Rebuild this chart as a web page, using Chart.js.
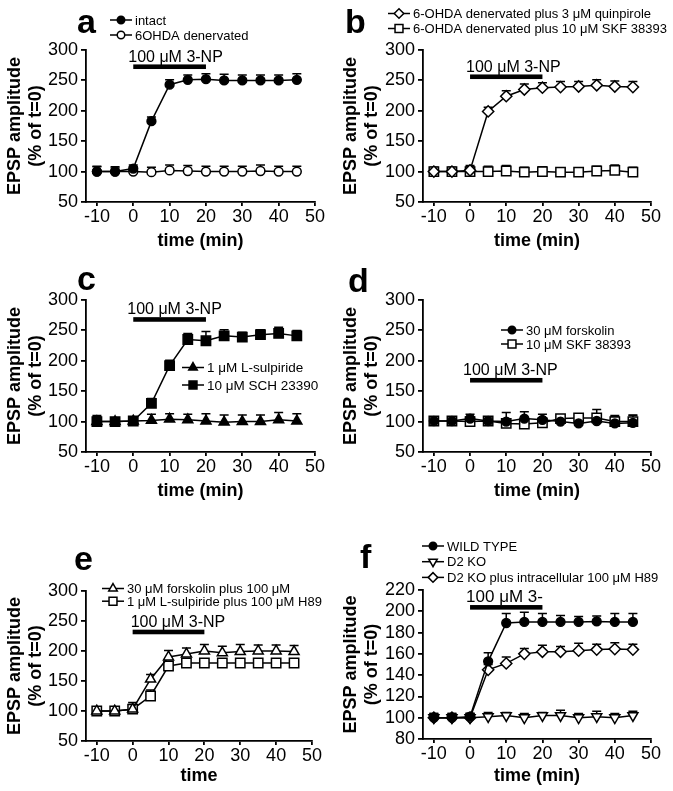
<!DOCTYPE html>
<html><head><meta charset="utf-8">
<script src="https://cdn.jsdelivr.net/npm/chart.js@4.4.1/dist/chart.umd.min.js"></script>
<style>
html,body{margin:0;padding:0;background:#fff;}
#wrap{position:relative;width:673px;height:791px;overflow:hidden;background:#fff;}
canvas{position:absolute;}
</style></head><body>
<div id="wrap">
<canvas id="pa" style="left:0px;top:0px" width="336" height="256"></canvas>
<canvas id="pb" style="left:336px;top:0px" width="337" height="256"></canvas>
<canvas id="pc" style="left:0px;top:250px" width="336" height="256"></canvas>
<canvas id="pd" style="left:336px;top:250px" width="337" height="256"></canvas>
<canvas id="pe" style="left:0px;top:520px" width="336" height="271"></canvas>
<canvas id="pf" style="left:336px;top:520px" width="337" height="271"></canvas>
</div>
<script>
const FONT = "'Liberation Sans', Arial, Helvetica, sans-serif";

// ---- data ----
const timePoints = [-10, -5, 0, 5, 10, 15, 20, 25, 30, 35, 40, 45];
const xTicks = [-10, 0, 10, 20, 30, 40, 50];
const yTicks300 = [50, 100, 150, 200, 250, 300];
const yTicks220 = [80, 100, 120, 140, 160, 180, 200, 220];
const drugPeriod = [0, 20];

// panel a
const aIntact = [100, 100, 105, 183, 243, 251, 252, 250, 250, 250, 250, 251];
const aIntactErr = [8, 6, 6, 7, 8, 8, 9, 10, 9, 9, 9, 10];
const aOhda = [100, 100, 100, 99, 102, 101, 100, 100, 100, 101, 100, 100];
const aOhdaErr = [9, 8, 8, 8, 9, 9, 9, 9, 9, 10, 9, 9];
// panel b
const bQuin = [100, 100, 102, 199, 224, 235, 238, 239, 240, 242, 240, 239];
const bQuinErr = [5, 5, 8, 7, 9, 9, 8, 9, 8, 9, 9, 9];
const bSkf = [100, 100, 100, 100, 101, 99, 100, 99, 99, 101, 102, 99];
const bSkfErr = [7, 7, 8, 9, 9, 8, 8, 7, 7, 8, 9, 8];
// panel c
const cSch = [100, 100, 101, 130, 192, 235, 233, 241, 239, 243, 245, 241];
const cSchErr = [10, 5, 7, 8, 9, 10, 15, 10, 8, 8, 10, 9];
const cSul = [100, 100, 101, 102, 104, 103, 101, 99, 100, 100, 103, 101];
const cSulErr = [8, 6, 6, 10, 9, 9, 12, 12, 11, 11, 12, 12];
// panel d
const dFsk = [101, 101, 105, 101, 100, 105, 103, 100, 97, 101, 97, 98];
const dFskErr = [3, 3, 7, 5, 15, 11, 9, 5, 5, 8, 13, 13];
const dSkf = [101, 101, 100, 101, 97, 96, 98, 105, 106, 106, 100, 100];
const dSkfErr = [3, 3, 8, 5, 6, 6, 8, 5, 6, 14, 8, 10];
// panel e
const eFsk = [100, 100, 103, 153, 190, 195, 200, 197, 199, 200, 200, 199];
const eFskErr = [6, 6, 8, 8, 11, 10, 11, 11, 12, 10, 10, 10];
const eSul = [100, 100, 103, 125, 175, 180, 180, 180, 180, 180, 180, 180];
const eSulErr = [5, 5, 11, 10, 7, 7, 7, 7, 7, 7, 7, 7];
// panel f
const fWt = [100, 100, 101, 153, 189, 190, 190, 190, 190, 190.5, 190, 190];
const fWtErr = [3, 3, 3, 8, 9, 9, 8, 6, 5, 5, 8, 8];
const fKo = [100, 100, 100, 101, 102, 100, 102, 102, 100, 101, 100, 102];
const fKoErr = [4, 4, 4, 4, 3, 4, 3, 5, 4, 5, 4, 4];
const fKoH89 = [100, 100, 100, 145, 151, 160, 162, 162, 163, 164, 164.5, 164];
const fKoH89Err = [4, 4, 4, 5, 6, 5, 6, 5, 7, 5, 6, 5];

// ---- drawing helpers ----
const decoById = {};
const LW = 1.5;

function drawMarker(ctx, style, rot, x, y, r, fill) {
  ctx.beginPath();
  if (style === 'circle') {
    ctx.arc(x, y, r, 0, Math.PI * 2);
  } else if (style === 'rect') {
    const s = Math.SQRT1_2 * r;
    ctx.rect(x - s, y - s, 2 * s, 2 * s);
  } else if (style === 'rectRot') {
    ctx.moveTo(x - r, y); ctx.lineTo(x, y - r); ctx.lineTo(x + r, y); ctx.lineTo(x, y + r);
    ctx.closePath();
  } else if (style === 'triangle') {
    let a = (rot || 0) * Math.PI / 180;
    for (let k = 0; k < 3; k++) {
      const px = x + Math.sin(a) * r, py = y - Math.cos(a) * r;
      if (k === 0) ctx.moveTo(px, py); else ctx.lineTo(px, py);
      a += 2 * Math.PI / 3;
    }
    ctx.closePath();
  }
  ctx.fillStyle = fill;
  ctx.fill();
  ctx.stroke();
}

const decoPlugin = {
  id: 'decoPlugin',
  beforeDatasetsDraw(chart) {
    const ctx = chart.ctx, ys = chart.scales.y;
    ctx.save();
    ctx.strokeStyle = '#000';
    ctx.lineWidth = LW;
    chart.data.datasets.forEach((ds, di) => {
      if (!ds.errors) return;
      const meta = chart.getDatasetMeta(di);
      meta.data.forEach((pt, i) => {
        const v = ds.data[i].y, e = ds.errors[i];
        const yTop = ys.getPixelForValue(v + e);
        ctx.beginPath();
        ctx.moveTo(pt.x, pt.y); ctx.lineTo(pt.x, yTop);
        ctx.moveTo(pt.x - 4.5, yTop); ctx.lineTo(pt.x + 4.5, yTop);
        ctx.stroke();
      });
    });
    ctx.restore();
  },
  afterDraw(chart) {
    const d = decoById[chart.canvas.id];
    if (!d) return;
    const ctx = chart.ctx, xs = chart.scales.x, ys = chart.scales.y;
    ctx.save();
    // panel letter
    ctx.fillStyle = '#000';
    ctx.font = 'bold 34px ' + FONT;
    ctx.textAlign = 'left';
    ctx.textBaseline = 'alphabetic';
    ctx.fillText(d.letter, d.letterPos[0], d.letterPos[1]);
    // drug bar
    const bx0 = xs.getPixelForValue(drugPeriod[0]);
    const bx1 = xs.getPixelForValue(drugPeriod[1]);
    const by = ys.getPixelForValue(d.barY);
    ctx.fillRect(bx0, by - 2.3, bx1 - bx0, 4.6);
    ctx.font = d.labelSize + 'px ' + FONT;
    ctx.fillText(d.label, bx0 + d.labelDx, by - 5);
    // legend
    ctx.strokeStyle = '#000';
    ctx.lineWidth = LW;
    ctx.font = d.legend.size + 'px ' + FONT;
    ctx.textBaseline = 'middle';
    d.legend.order.forEach((di, k) => {
      const ds = chart.data.datasets[di];
      const y = d.legend.y + k * d.legend.gap;
      const x = d.legend.x;
      ctx.beginPath();
      ctx.moveTo(x, y); ctx.lineTo(x + 22, y);
      ctx.stroke();
      drawMarker(ctx, ds.pointStyle, ds.pointRotation, x + 11, y, ds.pointRadius * 0.85, ds.pointBackgroundColor);
      ctx.fillStyle = '#000';
      ctx.fillText(ds.label, x + 25, y + 1);
    });
    ctx.restore();
  }
};
Chart.register(decoPlugin);

function series(label, values, errors, style, fill, radius, rot) {
  return {
    label: label,
    data: timePoints.map((t, i) => ({ x: t, y: values[i] })),
    errors: errors,
    borderColor: '#000',
    borderWidth: LW,
    tension: 0,
    fill: false,
    pointStyle: style,
    pointRotation: rot || 0,
    pointRadius: radius,
    pointBackgroundColor: fill,
    pointBorderColor: '#000',
    pointBorderWidth: LW
  };
}

function makePanel(id, W, H, area, yMin, yMax, yTicks, xTitle, datasets, deco) {
  decoById[id] = deco;
  new Chart(document.getElementById(id), {
    type: 'line',
    data: { datasets: datasets },
    options: {
      responsive: false,
      animation: false,
      devicePixelRatio: 1,
      layout: { padding: { top: area.t, right: W - area.r, left: 0, bottom: 0 } },
      plugins: { legend: { display: false }, tooltip: { enabled: false } },
      scales: {
        x: {
          type: 'linear', position: 'bottom', min: -13, max: 50,
          afterBuildTicks: s => { s.ticks = xTicks.map(v => ({ value: v })); },
          afterFit: s => { s.height = H - area.b; },
          ticks: { font: { family: FONT, size: 18 }, color: '#000', padding: 0, maxRotation: 0, autoSkip: false },
          grid: { drawOnChartArea: false, drawTicks: true, tickLength: 4, color: '#000', lineWidth: 1.8 },
          border: { color: '#000', width: 1.8 },
          title: { display: true, text: xTitle, color: '#000', font: { family: FONT, size: 18, weight: 'bold' }, padding: { top: 0, bottom: 4 } }
        },
        y: {
          type: 'linear', position: 'left', min: yMin, max: yMax,
          afterBuildTicks: s => { s.ticks = yTicks.map(v => ({ value: v })); },
          afterFit: s => { s.width = area.l; },
          ticks: { font: { family: FONT, size: 18 }, color: '#000', padding: 3, autoSkip: false },
          grid: { drawOnChartArea: false, drawTicks: true, tickLength: 5, color: '#000', lineWidth: 1.8 },
          border: { color: '#000', width: 1.8 },
          title: { display: true, text: ['EPSP amplitude', '(% of t=0)'], color: '#000', font: { family: FONT, size: 18, weight: 'bold' }, padding: { top: 4, bottom: 0 } }
        }
      }
    }
  });
}

const areaL = { l: 86, t: 50, r: 315, b: 202 };
const areaR = { l: 87, t: 50, r: 315, b: 202 };

makePanel('pa', 336, 256, areaL, 50, 300, yTicks300, 'time (min)', [
  series('intact', aIntact, aIntactErr, 'circle', '#000', 4.4),
  series('6OHDA denervated', aOhda, aOhdaErr, 'circle', '#fff', 4.4)
], { letter: 'a', letterPos: [77, 33], barY: 272.5, label: '100 μM 3-NP', labelSize: 16, labelDx: -5,
     legend: { x: 110, y: 20, gap: 15, size: 13, order: [0, 1] } });

makePanel('pb', 337, 256, areaR, 50, 300, yTicks300, 'time (min)', [
  series('6-OHDA denervated plus 3 μM quinpirole', bQuin, bQuinErr, 'rectRot', '#fff', 5.6),
  series('6-OHDA denervated plus 10 μM SKF 38393', bSkf, bSkfErr, 'rect', '#fff', 6.6)
], { letter: 'b', letterPos: [9, 33], barY: 256, label: '100 μM 3-NP', labelSize: 16, labelDx: -4,
     legend: { x: 52, y: 13.5, gap: 15, size: 13, order: [0, 1] } });

makePanel('pc', 336, 256, areaL, 50, 300, yTicks300, 'time (min)', [
  series('10 μM SCH 23390', cSch, cSchErr, 'rect', '#000', 6.6),
  series('1 μM L-sulpiride', cSul, cSulErr, 'triangle', '#000', 5.8)
], { letter: 'c', letterPos: [77, 40], barY: 268, label: '100 μM 3-NP', labelSize: 16, labelDx: -6,
     legend: { x: 182, y: 117.5, gap: 17.5, size: 13.5, order: [1, 0] } });

makePanel('pd', 337, 256, areaR, 50, 300, yTicks300, 'time (min)', [
  series('30 μM forskolin', dFsk, dFskErr, 'circle', '#000', 4.4),
  series('10 μM SKF 38393', dSkf, dSkfErr, 'rect', '#fff', 6.6)
], { letter: 'd', letterPos: [12, 42], barY: 168, label: '100 μM 3-NP', labelSize: 16, labelDx: -7,
     legend: { x: 165, y: 80, gap: 14, size: 13, order: [0, 1] } });

makePanel('pe', 336, 271, { l: 86, t: 71, r: 312, b: 221 }, 50, 300, yTicks300, 'time', [
  series('30 μM forskolin plus 100 μM', eFsk, eFskErr, 'triangle', '#fff', 5.8),
  series('1 μM L-sulpiride plus 100 μM H89', eSul, eSulErr, 'rect', '#fff', 6.6)
], { letter: 'e', letterPos: [74, 50], barY: 231.7, label: '100 μM 3-NP', labelSize: 16, labelDx: -2,
     legend: { x: 102, y: 68.5, gap: 12.7, size: 13, order: [0, 1] } });

makePanel('pf', 337, 271, { l: 87, t: 70, r: 315, b: 219 }, 80, 220, yTicks220, 'time (min)', [
  series('WILD TYPE', fWt, fWtErr, 'circle', '#000', 4.4),
  series('D2 KO', fKo, fKoErr, 'triangle', '#fff', 5.8, 180),
  series('D2 KO plus intracellular 100 μM H89', fKoH89, fKoH89Err, 'rectRot', '#fff', 5.6)
], { letter: 'f', letterPos: [24, 48], barY: 203.7, label: '100 μM 3-', labelSize: 17, labelDx: -4,
     legend: { x: 86, y: 26, gap: 15.7, size: 13, order: [0, 1, 2] } });
</script>
</body></html>
